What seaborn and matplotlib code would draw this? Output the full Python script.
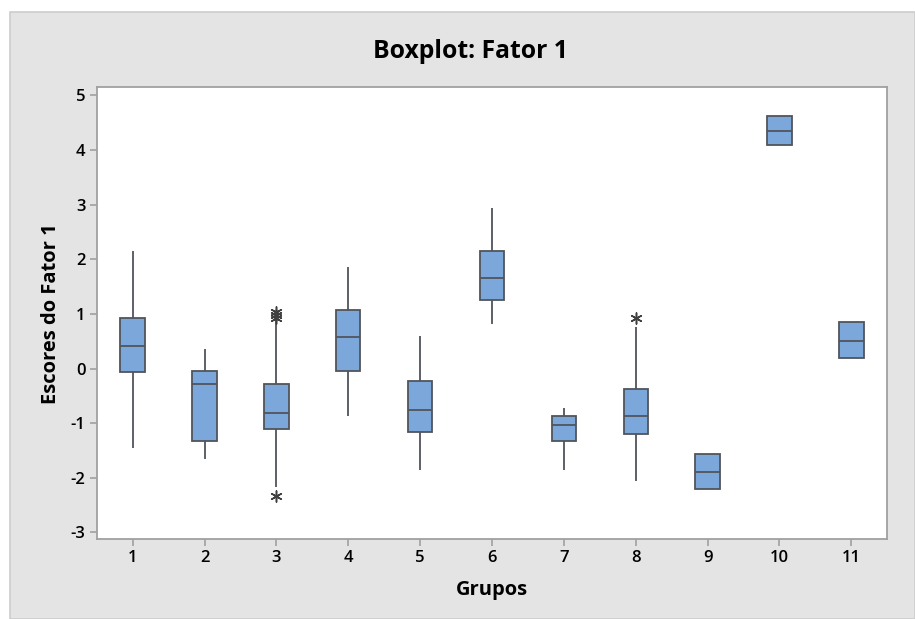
import numpy as np
import pandas as pd
import matplotlib
matplotlib.use("Agg")
import matplotlib.pyplot as plt
import seaborn as sns
from matplotlib.patches import Rectangle

# ---- data (five-number summaries per group) ----
groups = ["1", "2", "3", "4", "5", "6", "7", "8", "9", "10", "11"]
whisker_low = [-1.45, -1.66, -2.17, -0.86, -1.86, 0.81, -1.86, -2.06, -2.21, 4.09, 0.20]
q1 = [-0.07, -1.33, -1.10, -0.05, -1.16, 1.25, -1.33, -1.19, -2.21, 4.09, 0.20]
median = [0.42, -0.28, -0.81, 0.57, -0.75, 1.65, -1.04, -0.87, -1.89, 4.35, 0.51]
q3 = [0.93, -0.04, -0.28, 1.07, -0.22, 2.15, -0.87, -0.37, -1.57, 4.62, 0.86]
whisker_high = [2.15, 0.35, 0.89, 1.86, 0.60, 2.94, -0.73, 0.77, -1.57, 4.62, 0.86]

outlier_groups = ["3", "3", "3", "3", "8"]
outlier_values = [1.04, 0.98, 0.93, -2.33, 0.92]

yticks = [-3, -2, -1, 0, 1, 2, 3, 4, 5]

title = "Boxplot: Fator 1"
xlabel = "Grupos"
ylabel = "Escores do Fator 1"

# ---- build long table ----
rows = []
for g, a, b, c, d, e in zip(groups, whisker_low, q1, median, q3, whisker_high):
    for v in (a, b, c, d, e):
        rows.append((g, v))
df = pd.DataFrame(rows, columns=["Grupo", "Escore"])
df_out = pd.DataFrame({"Grupo": outlier_groups, "Escore": outlier_values})

sns.set_theme(style="white")
plt.rcParams["font.family"] = ["Open Sans", "DejaVu Sans"]
plt.rcParams["text.color"] = "black"
plt.rcParams["axes.labelcolor"] = "black"

W, H = 915, 619
fig = plt.figure(figsize=(W / 100, H / 100), dpi=100, facecolor="white")
fig.patches.append(Rectangle((10 / W, 0), 1 - 10 / W, (H - 12) / H,
                             transform=fig.transFigure, facecolor="#e4e4e4",
                             edgecolor="#cdcdcd", linewidth=1.2, zorder=-5))

ax = fig.add_axes([96.7 / W, (H - 539) / H, (887.3 - 96.7) / W, (539 - 87.3) / H])
ax.set_zorder(2)
ax.set_facecolor("white")

box_fill = "#7ba7da"
edge = "#50555c"
sns.boxplot(data=df, x="Grupo", y="Escore", order=groups, ax=ax,
            whis=(0, 100), showfliers=False, width=0.34, color=box_fill,
            saturation=1, linewidth=1.3, linecolor=edge, showcaps=False,
            medianprops=dict(color=edge, linewidth=1.3),
            whiskerprops=dict(color=edge, linewidth=1.3))

sns.stripplot(data=df_out, x="Grupo", y="Escore", order=groups, ax=ax,
              jitter=False, marker=(6, 2, 0), s=8, color="#404040",
              edgecolor="#404040", linewidth=1.1)

ax.set_xlim(-0.5, 10.5)
ax.set_ylim(-3.12, 5.15)
ax.set_yticks(yticks, [str(t) for t in yticks], fontweight=600, fontsize=12)
ax.set_xticks(ax.get_xticks(), groups, fontweight=600, fontsize=12)

for s in ax.spines.values():
    s.set_visible(True)
    s.set_color("#a0a0a0")
    s.set_linewidth(1.3)

ax.tick_params(axis="both", which="major", direction="out", length=5, width=1.2,
               color="#a0a0a0", labelcolor="black", pad=3,
               bottom=True, left=True)

ax.set_xlabel(xlabel, fontsize=14.5, fontweight="bold", labelpad=10, color="black")
ax.set_ylabel(ylabel, fontsize=14.5, fontweight="bold", labelpad=7, color="black")
fig.text(470 / W, 1 - 51 / H, title, ha="center", va="center",
         fontsize=17.8, fontweight="bold", color="black")

fig.savefig("out.png", dpi=100, facecolor="white")
